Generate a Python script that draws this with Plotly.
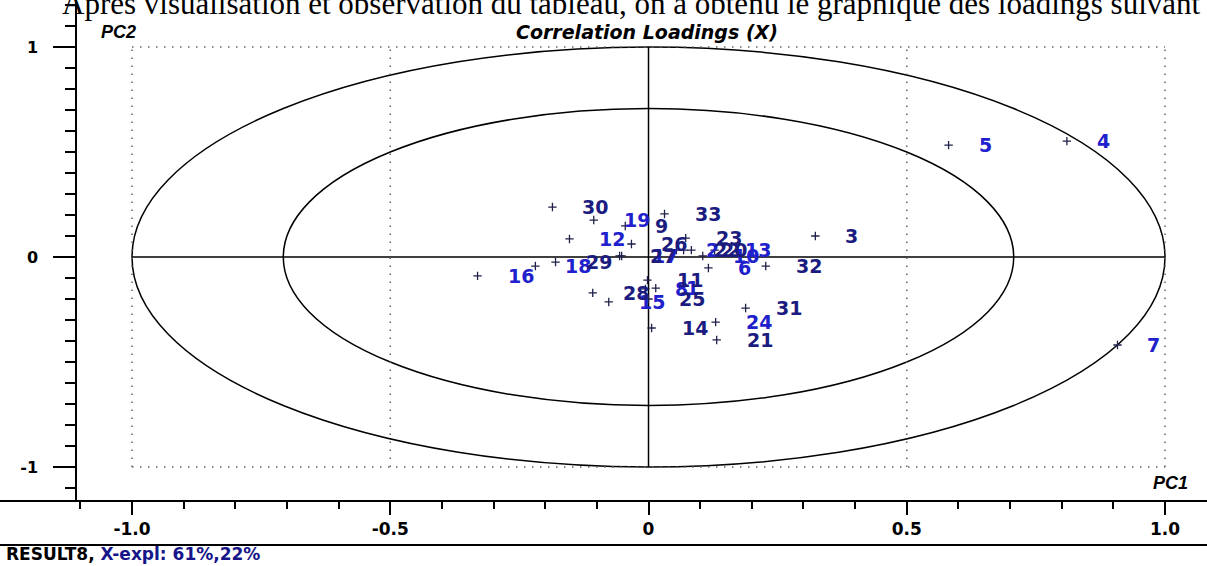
import plotly.graph_objects as go
import math

# ---- data ----
labels = [str(i) for i in range(1, 34)]
pc1 = [0.014, 0.054, 0.323, 0.810, 0.581, 0.116, 0.908, -0.006, -0.045, 0.105,
       -0.002, -0.153, 0.128, 0.006, -0.077, -0.331, -0.052, -0.219, -0.106, 0.083,
       0.132, 0.068, 0.072, 0.130, 0.000, -0.033, -0.056, -0.108, -0.180, -0.186,
       0.188, 0.227, 0.031]
pc2 = [-0.148, 0.033, 0.100, 0.552, 0.533, -0.052, -0.419, -0.152, 0.148, 0.005,
       -0.110, 0.086, 0.033, -0.338, -0.214, -0.090, 0.005, -0.043, 0.176, 0.033,
       -0.395, 0.033, 0.090, -0.310, -0.200, 0.062, 0.005, -0.171, -0.024, 0.238,
       -0.243, -0.043, 0.205]
tone = ["b", "b", "n", "b", "b", "b", "b", "b", "n", "b",
        "n", "b", "b", "n", "b", "b", "b", "b", "b", "n",
        "n", "n", "n", "b", "n", "n", "n", "n", "n", "n",
        "n", "n", "n"]
xtick_vals = [-1.0, -0.5, 0.0, 0.5, 1.0]
xtick_text = ["-1.0", "-0.5", "0", "0.5", "1.0"]
ytick_vals = [-1, 0, 1]
ytick_text = ["-1", "0", "1"]
title_text = "Correlation Loadings (X)"
footer_name = "RESULT8,"
footer_expl = "X-expl: 61%,22%"
top_text = "Après visualisation et observation du tableau, on a obtenu le graphique des loadings suivant"

tone_color = {"b": "#2020cc", "n": "#1c1c80"}

X_RANGE = [-1.1065, 1.0813]
Y_RANGE = [-1.162, 1.224]
L, R, T, B = 77, 0, 0, 65
W, H = 1207, 566
PW = W - L - R
PH = H - T - B

fig = go.Figure()
fig.add_trace(go.Scatter(
    x=pc1, y=pc2, mode="markers",
    marker=dict(symbol="cross-thin", size=6, line=dict(width=1.3, color="#20204a")),
    hoverinfo="text", text=labels, showlegend=False,
))

for lab, xv, yv, tn in zip(labels, pc1, pc2, tone):
    fig.add_annotation(x=xv, y=yv, xref="x", yref="y", text=f"<b>{lab}</b>", showarrow=False,
                       xanchor="left", yanchor="middle", xshift=28,
                       font=dict(family="DejaVu Sans", size=19, color=tone_color[tn]))

shapes = []
# ellipses (correlation circles r=1 and r=sqrt(0.5))
for r in [1.0, math.sqrt(0.5)]:
    shapes.append(dict(type="circle", xref="x", yref="y", x0=-r, x1=r, y0=-r, y1=r,
                       line=dict(color="black", width=1.5), layer="below"))
# solid cross
shapes.append(dict(type="line", xref="x", yref="y", x0=-1, x1=1, y0=0, y1=0,
                   line=dict(color="black", width=1.5), layer="below"))
shapes.append(dict(type="line", xref="x", yref="y", x0=0, x1=0, y0=-1, y1=1,
                   line=dict(color="black", width=1.5), layer="below"))
# dotted grid
for xv in [-1, -0.5, 0.5, 1]:
    shapes.append(dict(type="line", xref="x", yref="y", x0=xv, x1=xv, y0=-1, y1=1,
                       line=dict(color="#666666", width=1.5, dash="1.5px,6.5px"), layer="below"))
for yv in [-1, 1]:
    shapes.append(dict(type="line", xref="x", yref="y", x0=-1, x1=1, y0=yv, y1=yv,
                       line=dict(color="#666666", width=1.5, dash="1.5px,6.5px"), layer="below"))
# full-width x axis line and the footer separator
shapes.append(dict(type="line", xref="paper", yref="paper", x0=-L / PW, x1=1 + R / PW, y0=0, y1=0,
                   line=dict(color="black", width=2), layer="above"))
sep_y = -(545 - (T + PH)) / PH
shapes.append(dict(type="line", xref="paper", yref="paper", x0=-L / PW, x1=1 + R / PW, y0=sep_y, y1=sep_y,
                   line=dict(color="black", width=2), layer="above"))


def px_to_paper_x(px):
    return (px - L) / PW


def px_to_paper_y(py):
    return 1 - (py - T) / PH


annots = [
    dict(text=f"<b><i>{title_text}</i></b>", x=px_to_paper_x(647), y=px_to_paper_y(32),
         xanchor="center", yanchor="middle",
         font=dict(family="DejaVu Sans", size=19, color="black")),
    dict(text="<b><i>PC2</i></b>", x=px_to_paper_x(118), y=px_to_paper_y(32), xanchor="center", yanchor="middle",
         font=dict(family="Liberation Sans", size=18, color="black")),
    dict(text="<b><i>PC1</i></b>", x=px_to_paper_x(1170), y=px_to_paper_y(483), xanchor="center", yanchor="middle",
         font=dict(family="Liberation Sans", size=18, color="black")),
    dict(text=f"<b>{footer_name} <span style='color:#16168a'>{footer_expl}</span></b>",
         x=px_to_paper_x(4), y=px_to_paper_y(554), xanchor="left", yanchor="middle",
         font=dict(family="DejaVu Sans", size=17, color="black")),
    dict(text=top_text, x=px_to_paper_x(60), y=px_to_paper_y(4), xanchor="left", yanchor="middle",
         font=dict(family="Liberation Serif", size=31, color="black")),
]
for a in annots:
    fig.add_annotation(xref="paper", yref="paper", showarrow=False, **a)

fig.update_layout(
    width=W, height=H,
    margin=dict(l=L, r=R, t=T, b=B, pad=0),
    paper_bgcolor="white", plot_bgcolor="white",
    shapes=shapes,
    xaxis=dict(range=X_RANGE, showgrid=False, zeroline=False, showline=False,
               tickmode="array", tickvals=xtick_vals, ticktext=xtick_text,
               ticks="outside", ticklen=13, tickwidth=1.5, tickcolor="black",
               minor=dict(ticks="outside", tickmode="linear", tick0=0, dtick=0.1,
                          ticklen=7, tickwidth=1.5, tickcolor="black"),
               tickfont=dict(family="DejaVu Sans", size=17, color="black", weight="bold")),
    yaxis=dict(range=Y_RANGE, showgrid=False, zeroline=False, showline=True,
               linecolor="black", linewidth=1.5,
               tickmode="array", tickvals=ytick_vals, ticktext=ytick_text,
               ticks="outside", ticklen=22, tickwidth=1.5, tickcolor="black",
               ticklabelstandoff=12,
               minor=dict(ticks="outside", tickmode="linear", tick0=0, dtick=0.1,
                          ticklen=10, tickwidth=1.5, tickcolor="black"),
               tickfont=dict(family="DejaVu Sans", size=16, color="black", weight="bold")),
)

fig.write_html("out.html")
